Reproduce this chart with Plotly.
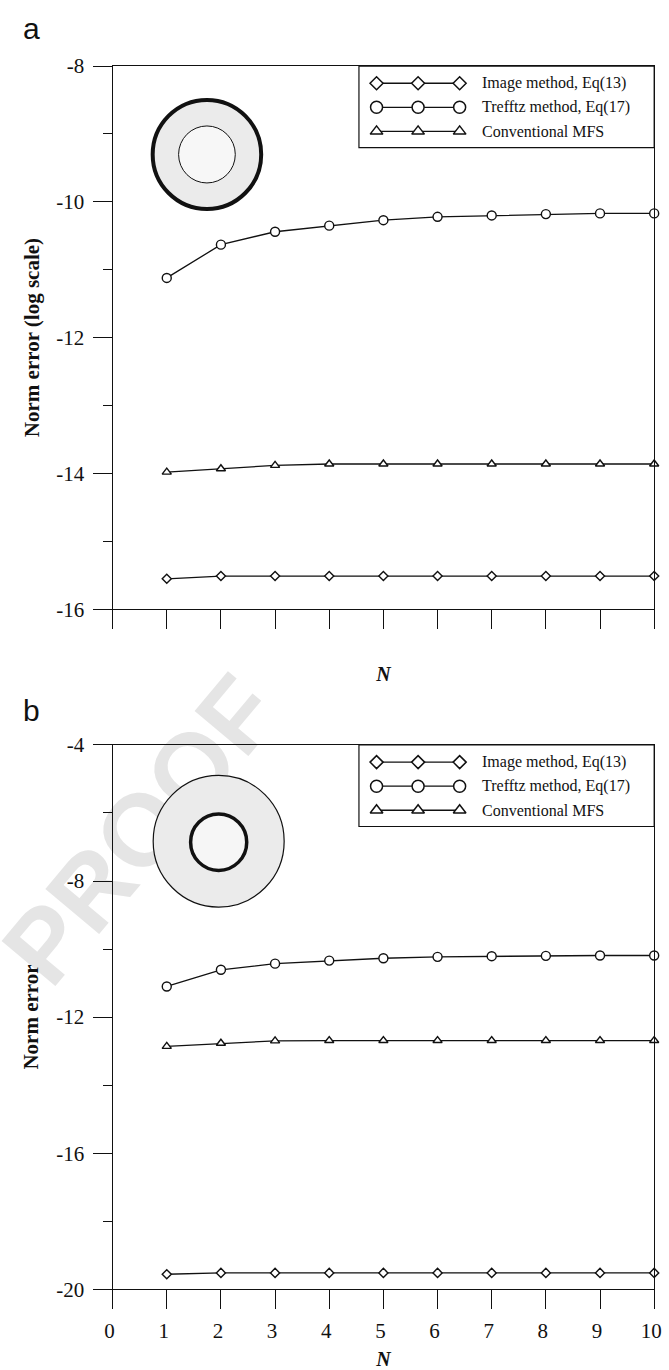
import math
import plotly.graph_objects as go

W, H = 669, 1370

# ---------------- data (log10 of norm error) ----------------
N = list(range(1, 11))

image_a = [-15.55, -15.51, -15.51, -15.51, -15.51, -15.51, -15.51, -15.51, -15.51, -15.51]
trefftz_a = [-11.12, -10.63, -10.44, -10.35, -10.27, -10.22, -10.20, -10.18, -10.17, -10.17]
mfs_a = [-13.98, -13.93, -13.88, -13.86, -13.86, -13.86, -13.86, -13.86, -13.86, -13.86]

image_b = [-19.56, -19.52, -19.52, -19.52, -19.52, -19.52, -19.52, -19.52, -19.52, -19.52]
trefftz_b = [-11.10, -10.61, -10.43, -10.34, -10.27, -10.23, -10.21, -10.20, -10.19, -10.19]
mfs_b = [-12.86, -12.77, -12.70, -12.69, -12.69, -12.69, -12.69, -12.69, -12.69, -12.69]

x_ticks = list(range(0, 11))
x_ticktext = [str(v) for v in x_ticks]

y_major_a = [-16, -14, -12, -10, -8]
y_minor_a = [-15, -13, -11, -9]
y_major_b = [-20, -16, -12, -8, -4]
y_minor_b = [-18, -14, -10, -6]

series_names = ["Image method, Eq(13)", "Trefftz method, Eq(17)", "Conventional MFS"]

# ---------------- styling ----------------
SERIF = "Liberation Serif"
SANS = "Liberation Sans"
INK = "#111111"
SYMBOLS = ["diamond", "circle", "triangle-up"]
DATA_SIZES = [7, 9, 8]
LEGEND_SIZES = [10, 12, 11]

# plot frames in pixels
PX_LEFT, PX_RIGHT = 107, 661
TOP_A, BOT_A = 55, 608
TOP_B, BOT_B = 746, 1300


def fx(p):
    return p / W


def fy(p):
    return 1 - p / H


fig = go.Figure()

panels = [
    ("x", "y", [image_a, trefftz_a, mfs_a]),
    ("x2", "y2", [image_b, trefftz_b, mfs_b]),
]
for xa, ya, series in panels:
    for vals, sym, size, name in zip(series, SYMBOLS, DATA_SIZES, series_names):
        fig.add_trace(go.Scatter(
            x=N, y=vals, xaxis=xa, yaxis=ya, name=name,
            mode="lines+markers", cliponaxis=False, showlegend=False,
            line=dict(color=INK, width=1.3),
            marker=dict(symbol=sym, size=size, color="white",
                        line=dict(color=INK, width=1.4)),
        ))

# legend glyphs drawn on a pixel-space overlay axis
LEG_LEFT = 359
LEG_ROWS = [17.5, 42, 66.5]
LEG_SAMPLE_X = [LEG_LEFT + 18 + 42.5 * i for i in range(3)]
LEG_TEXT_X = 483
LEG_HEIGHT = 83

shapes = []
annotations = []

# faint diagonal stamp behind everything
st_cx, st_cy, st_len, st_deg = 128, 826, 360, 50
st_dx = st_len / 2 * math.cos(math.radians(st_deg))
st_dy = st_len / 2 * math.sin(math.radians(st_deg))
shapes.append(dict(
    type="line", xref="paper", yref="paper", layer="below",
    x0=fx(st_cx - st_dx), y0=fy(st_cy + st_dy),
    x1=fx(st_cx + st_dx), y1=fy(st_cy - st_dy),
    line=dict(color="rgba(0,0,0,0)", width=1),
    label=dict(text="PROOF", textangle=-st_deg, textposition="middle",
               yanchor="middle",
               font=dict(family=SANS, size=102, color="#e5e5e5", weight="bold")),
))

for top in (TOP_A, TOP_B):
    for row, sym, size, name in zip(LEG_ROWS, SYMBOLS, LEGEND_SIZES, series_names):
        fig.add_trace(go.Scatter(
            x=LEG_SAMPLE_X, y=[top + row] * 3, xaxis="x3", yaxis="y3",
            mode="lines+markers", showlegend=False, hoverinfo="skip",
            cliponaxis=False,
            line=dict(color=INK, width=1.3),
            marker=dict(symbol=sym, size=size, color="white",
                        line=dict(color=INK, width=1.5)),
        ))
        annotations.append(dict(
            xref="paper", yref="paper", x=fx(LEG_TEXT_X), y=fy(top + row),
            xanchor="left", yanchor="middle", showarrow=False, text=name,
            font=dict(family=SERIF, size=16, color=INK),
        ))
    shapes.append(dict(
        type="rect", xref="paper", yref="paper", layer="above",
        x0=fx(LEG_LEFT), x1=fx(PX_RIGHT), y0=fy(top), y1=fy(top + LEG_HEIGHT),
        line=dict(color=INK, width=1.2), fillcolor="rgba(0,0,0,0)",
    ))


def circle(cx, cy, r, fill, width):
    return dict(type="circle", xref="paper", yref="paper", layer="below",
                x0=fx(cx - r), x1=fx(cx + r), y0=fy(cy + r), y1=fy(cy - r),
                fillcolor=fill, line=dict(color=INK, width=width))


# annulus insets
shapes += [
    circle(203.5, 145, 55.5, "#ebebeb", 4),
    circle(203.5, 145, 29, "#f7f7f7", 1),
    circle(215.5, 844, 67, "#ebebeb", 1.2),
    circle(215.5, 845, 28.7, "#f6f6f6", 3.5),
]

N_FONT = dict(family=SERIF, size=20, color=INK, weight="bold", style="italic")

# y-axis titles and panel letters
annotations += [
    dict(xref="paper", yref="paper", x=fx(24), y=fy((TOP_A + BOT_A) / 2),
         text="Norm error (log scale)", textangle=-90, showarrow=False,
         xanchor="center", yanchor="middle",
         font=dict(family=SERIF, size=21, color=INK, weight="bold")),
    dict(xref="paper", yref="paper", x=fx(24), y=fy((TOP_B + BOT_B) / 2),
         text="Norm error", textangle=-90, showarrow=False,
         xanchor="center", yanchor="middle",
         font=dict(family=SERIF, size=21, color=INK, weight="bold")),
    dict(xref="paper", yref="paper", x=fx(24), y=fy(17), text="a",
         showarrow=False, xanchor="center", yanchor="middle",
         font=dict(family=SANS, size=30, color=INK)),
    dict(xref="paper", yref="paper", x=fx(24), y=fy(711), text="b",
         showarrow=False, xanchor="center", yanchor="middle",
         font=dict(family=SANS, size=30, color=INK)),
]

axis_line = dict(showline=True, linecolor=INK, linewidth=1.2, mirror=True,
                 showgrid=False, zeroline=False, fixedrange=True,
                 ticks="outside", tickcolor=INK, tickwidth=1.2,
                 ticklabeloverflow="allow")


def xaxis(anchor, labels, standoff):
    return dict(axis_line, range=[0, 10], domain=[fx(PX_LEFT), fx(PX_RIGHT)],
                anchor=anchor, tickvals=x_ticks, ticktext=x_ticktext,
                showticklabels=labels, ticklen=19, ticklabelstandoff=3,
                ticklabelshift=-3,
                tickfont=dict(family=SERIF, size=21, color=INK),
                title=dict(text="N", font=N_FONT, standoff=standoff))


def yaxis(anchor, rng, major, minor, top, bot):
    return dict(axis_line, range=rng, domain=[fy(bot), fy(top)], anchor=anchor,
                tickvals=major, ticktext=[str(v) for v in major], ticklen=19,
                ticklabelstandoff=4,
                tickfont=dict(family=SERIF, size=21, color=INK),
                minor=dict(tickvals=minor, ticks="outside", ticklen=9,
                           tickcolor=INK, tickwidth=1.2, showgrid=False))


fig.update_layout(
    width=W, height=H, autosize=False,
    margin=dict(l=0, r=0, t=0, b=0),
    paper_bgcolor="white", plot_bgcolor="rgba(0,0,0,0)",
    showlegend=False,
    xaxis=xaxis("y", False, 38),
    yaxis=yaxis("x", [-16, -8], y_major_a, y_minor_a, TOP_A, BOT_A),
    xaxis2=xaxis("y2", True, 12),
    yaxis2=yaxis("x2", [-20, -4], y_major_b, y_minor_b, TOP_B, BOT_B),
    xaxis3=dict(domain=[0, 1], range=[0, W], anchor="y3", visible=False,
                fixedrange=True),
    yaxis3=dict(domain=[0, 1], range=[H, 0], anchor="x3", visible=False,
                fixedrange=True),
    shapes=shapes,
    annotations=annotations,
)

fig.write_html("out.html")
